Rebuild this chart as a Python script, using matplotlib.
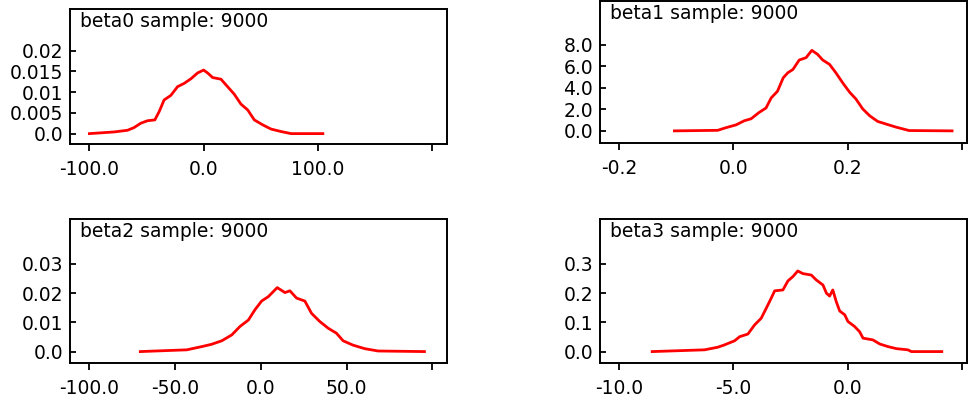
#!/usr/bin/env python3
# coding: utf-8

import matplotlib
matplotlib.use('Agg')
import matplotlib.pyplot as plt

# beta0 density
beta0_x = [-100, -78.4, -66.7, -60.9, -55, -49.1, -42.7, -38.9, -34.6, -28.7, -22.8, -17,
           -11.1, -5.3, 0, 3.5, 7.9, 15.2, 21, 26.8, 32.7, 38.6, 44.4, 51.8, 59, 67.8, 76.6, 104.4]
beta0_y = [0, 0.0004, 0.0008, 0.00145, 0.0025, 0.0031, 0.0033, 0.0053, 0.0081, 0.0092, 0.0113, 0.0121,
           0.0132, 0.0146, 0.0153, 0.0146, 0.0135, 0.0131, 0.0113, 0.0095, 0.0071, 0.0057, 0.0033, 0.0021,
           0.0011, 0.0005, 0, 0]

# beta1 density
beta1_x = [-0.103, -0.0274, -0.0128, 0.0047, 0.019, 0.031, 0.045, 0.057, 0.066, 0.077, 0.087, 0.095,
           0.104, 0.115, 0.127, 0.137, 0.147, 0.156, 0.168, 0.179, 0.191, 0.203, 0.214, 0.226, 0.238,
           0.252, 0.267, 0.284, 0.307, 0.382]
beta1_y = [0, 0.05, 0.3, 0.56, 0.94, 1.13, 1.72, 2.13, 3.07, 3.69, 4.94, 5.41,
           5.72, 6.6, 6.82, 7.5, 7.13, 6.6, 6.19, 5.41, 4.47, 3.6, 2.97, 2.04, 1.41,
           0.88, 0.63, 0.35, 0.03, 0]

# beta2 density
beta2_x = [-70.3, -43.2, -34.5, -28.7, -22.8, -17, -12.2, -7.3, -3.5, 0.4, 4.3, 9.5, 14, 16.9,
           20.8, 25.6, 29.5, 34.3, 39.2, 44, 47.9, 53.7, 60.5, 68.3, 95.3]
beta2_y = [0, 0.0006, 0.0017, 0.0025, 0.0037, 0.0057, 0.0086, 0.0108, 0.0143, 0.0173, 0.0188, 0.0219,
           0.0202, 0.0208, 0.0183, 0.0173, 0.0131, 0.0103, 0.008, 0.0063, 0.0037, 0.0022, 0.001, 0.0002, 0]

# beta3 density
beta3_x = [-8.55, -6.26, -5.68, -5.39, -4.95, -4.73, -4.37, -4.08, -3.79, -3.57, -3.35, -3.2, -2.84,
           -2.62, -2.4, -2.19, -1.97, -1.6, -1.38, -1.09, -0.94, -0.8, -0.66, -0.51, -0.36, -0.14, 0,
           0.29, 0.51, 0.66, 1.09, 1.39, 1.75, 2.12, 2.62, 2.77, 4.1]
beta3_y = [0, 0.006, 0.015, 0.023, 0.037, 0.051, 0.06, 0.091, 0.114, 0.148, 0.183, 0.208, 0.211,
           0.242, 0.257, 0.276, 0.267, 0.262, 0.245, 0.228, 0.2, 0.19, 0.211, 0.171, 0.139, 0.126, 0.103,
           0.086, 0.068, 0.046, 0.04, 0.026, 0.017, 0.01, 0.006, 0, 0]

titles = ['beta0 sample: 9000', 'beta1 sample: 9000', 'beta2 sample: 9000', 'beta3 sample: 9000']

xticks = [[-100, 0, 100, 200], [-0.2, 0.0, 0.2, 0.4], [-100, -50, 0, 50, 100], [-10, -5, 0, 5]]
xticklabels = [['-100.0', '0.0', '100.0', ''], ['-0.2', '0.0', '0.2', ''],
               ['-100.0', '-50.0', '0.0', '50.0', ''], ['-10.0', '-5.0', '0.0', '']]
yticks = [[0, 0.005, 0.01, 0.015, 0.02], [0, 2, 4, 6, 8], [0, 0.01, 0.02, 0.03], [0, 0.1, 0.2, 0.3]]
yticklabels = [['0.0', '0.005', '0.01', '0.015', '0.02'], ['0.0', '2.0', '4.0', '6.0', '8.0'],
               ['0.0', '0.01', '0.02', '0.03'], ['0.0', '0.1', '0.2', '0.3']]
xlims = [(-117, 213), (-0.233, 0.408), (-111.3, 108.4), (-10.83, 5.2)]
ylims = [(-0.0025, 0.030), (-1.1, 12.1), (-0.0038, 0.0454), (-0.038, 0.454)]

# axes rectangles in figure fractions
rects = [[0.0722, 0.64, 0.389, 0.3375],
         [0.6192, 0.6433, 0.3787, 0.3543],
         [0.0722, 0.0933, 0.389, 0.3593],
         [0.6192, 0.0933, 0.3787, 0.3593]]


def main():
    plt.rcParams['font.family'] = ['DejaVu Sans']
    fig = plt.figure(figsize=(9.69, 4.0), dpi=100)
    series = [(beta0_x, beta0_y), (beta1_x, beta1_y), (beta2_x, beta2_y), (beta3_x, beta3_y)]

    for i, (xs, ys) in enumerate(series):
        ax = fig.add_axes(rects[i])
        ax.plot(xs, ys, color='#ff0000', lw=2.0)
        ax.set_xlim(*xlims[i])
        ax.set_ylim(*ylims[i])
        ax.set_xticks(xticks[i])
        ax.set_xticklabels(xticklabels[i])
        ax.set_yticks(yticks[i])
        ax.set_yticklabels(yticklabels[i])
        ax.tick_params(axis='x', direction='out', length=5, width=1.3, pad=6.5, labelsize=13.5)
        ax.tick_params(axis='y', direction='in', length=4, width=1.3, pad=5, labelsize=13.5)
        for sp in ax.spines.values():
            sp.set_linewidth(1.4)
        ax.annotate(titles[i], xy=(0, 1), xycoords='axes fraction', xytext=(7, -2),
                    textcoords='offset points', ha='left', va='top', fontsize=13.5)

    fig.savefig('out.png', dpi=100)


if __name__ == '__main__':
    main()
